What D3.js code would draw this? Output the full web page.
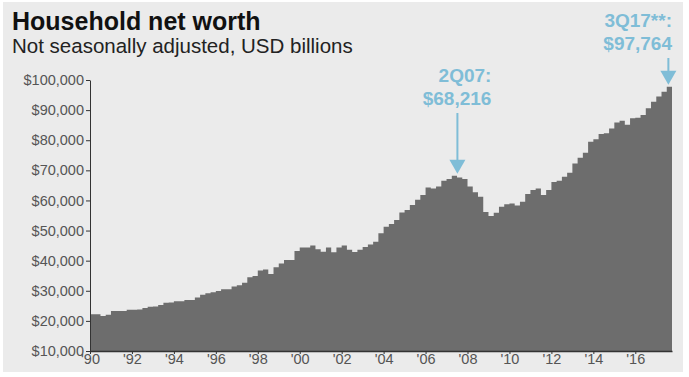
<!DOCTYPE html>
<html>
<head>
<meta charset="utf-8">
<script src="https://cdn.jsdelivr.net/npm/d3@7"></script>
<style>
  body { margin: 0; background: #fff; font-family: "Liberation Sans", Arial, sans-serif; }
  svg { display: block; }
</style>
</head>
<body>
<script>
// quarterly household net worth, USD billions, 1Q90 .. 3Q17
var startYear = 1990;
var netWorth = [
  22200, 22200, 21600, 22000,   // 1990
  23300, 23300, 23300, 23700,   // 1991
  23700, 23800, 24300, 24700,   // 1992
  24800, 25300, 26000, 26100,   // 1993
  26500, 26500, 26900, 26900,   // 1994
  27800, 28700, 29200, 29500,   // 1995
  29900, 30500, 30500, 31400,   // 1996
  31800, 32700, 34500, 34900,   // 1997
  36700, 37100, 35600, 37800,   // 1998
  39100, 40200, 40200, 43200,   // 1999
  44400, 44400, 45000, 43800,   // 2000
  43000, 44400, 42800, 44400,   // 2001
  45000, 43600, 42900, 43600,   // 2002
  44500, 45400, 46300, 49100,   // 2003
  51300, 52200, 53500, 56000,   // 2004
  56800, 58500, 60200, 61800,   // 2005
  64300, 64000, 64600, 66500,   // 2006
  67100, 68216, 67600, 67100,   // 2007
  64600, 62700, 61200, 56200,   // 2008
  54800, 55900, 57900, 58700,   // 2009
  59000, 58300, 59600, 62100,   // 2010
  63500, 64000, 61800, 63500,   // 2011
  66100, 66500, 67900, 69200,   // 2012
  72300, 74200, 75800, 79500,   // 2013
  80300, 82100, 82300, 83900,   // 2014
  85900, 86500, 85100, 87300,   // 2015
  87500, 88400, 90600, 92800,   // 2016
  94500, 96100, 97764           // 2017
];
var yTicks = [10000, 20000, 30000, 40000, 50000, 60000, 70000, 80000, 90000, 100000];
var xTicks = [1990, 1992, 1994, 1996, 1998, 2000, 2002, 2004, 2006, 2008, 2010, 2012, 2014, 2016];
var callouts = [
  { idx: 69, line1: "2Q07:", line2: "$68,216" },
  { idx: 110, line1: "3Q17**:", line2: "$97,764" }
];

var W = 689, H = 377;
var svg = d3.select("body").append("svg").attr("width", W).attr("height", H);

svg.append("rect").attr("x", 3).attr("y", 2).attr("width", 680).attr("height", 370)
  .attr("fill", "#ebebeb");

svg.append("text").attr("x", 12).attr("y", 30)
  .attr("font-size", 25).attr("font-weight", "bold").attr("fill", "#111")
  .text("Household net worth");
svg.append("text").attr("x", 12).attr("y", 53)
  .attr("font-size", 20.5).attr("fill", "#222")
  .text("Not seasonally adjusted, USD billions");

var x = d3.scaleLinear()
  .domain([startYear, startYear + netWorth.length / 4])
  .range([90, 672]);
var y = d3.scaleLinear()
  .domain([10000, 100000])
  .range([351, 80]);

// step area, one step per quarter
var pts = netWorth.map(function (v, i) { return { t: startYear + i / 4, v: v }; });
pts.push({ t: startYear + netWorth.length / 4, v: netWorth[netWorth.length - 1] });

var area = d3.area()
  .curve(d3.curveStepAfter)
  .x(function (d) { return x(d.t); })
  .y0(y(10000))
  .y1(function (d) { return y(d.v); });

svg.append("path")
  .datum(pts)
  .attr("d", area)
  .attr("fill", "#6d6d6d");

// y axis
var yAxis = svg.append("g")
  .attr("transform", "translate(90,0)")
  .call(d3.axisLeft(y).tickValues(yTicks).tickSize(4).tickSizeOuter(0)
    .tickFormat(function (d) { return "$" + d3.format(",")(d); }));
yAxis.select(".domain").attr("stroke", "#333");
yAxis.selectAll(".tick line").attr("stroke", "#333");
yAxis.selectAll("text").attr("font-family", "Liberation Sans, Arial, sans-serif")
  .attr("font-size", 14.5).attr("fill", "#555").attr("x", -6);

// x axis
var xAxis = svg.append("g")
  .attr("transform", "translate(0,351)")
  .call(d3.axisBottom(x).tickValues(xTicks).tickSize(3).tickSizeOuter(0)
    .tickFormat(function (d) { return "'" + String(d).slice(2); }));
xAxis.select(".domain").attr("stroke", "#333").attr("stroke-width", 1.5);
xAxis.selectAll(".tick line").attr("stroke", "#333");
xAxis.selectAll("text").attr("font-family", "Liberation Sans, Arial, sans-serif")
  .attr("font-size", 14.5).attr("fill", "#555").attr("dy", "0.55em").attr("y", 5);

// callouts
var blue = "#7fbdd7";
callouts.forEach(function (c) {
  var cx = x(startYear + (c.idx + 0.5) / 4) + 3;
  var top = y(netWorth[c.idx]);
  var g = svg.append("g");
  var isLast = c.idx === netWorth.length - 1;
  var tx = isLast ? 672 : cx + 34;
  var base = isLast ? 27 : 82;
  g.append("text").attr("x", tx).attr("y", base).attr("text-anchor", "end")
    .attr("font-size", 19).attr("font-weight", "bold").attr("fill", blue).text(c.line1);
  g.append("text").attr("x", tx).attr("y", base + 23).attr("text-anchor", "end")
    .attr("font-size", 19).attr("font-weight", "bold").attr("fill", blue).text(c.line2);
  var lineTop = base + 31;
  var tip = top - 2;
  if (isLast) cx = x(startYear + (c.idx + 0.5) / 4) - 1;
  g.append("line").attr("x1", cx).attr("x2", cx).attr("y1", lineTop).attr("y2", tip - 12)
    .attr("stroke", blue).attr("stroke-width", 2);
  g.append("path")
    .attr("d", "M" + (cx - 8) + "," + (tip - 14) + "L" + (cx + 8) + "," + (tip - 14) + "L" + cx + "," + tip + "Z")
    .attr("fill", blue);
});
</script>
</body>
</html>
